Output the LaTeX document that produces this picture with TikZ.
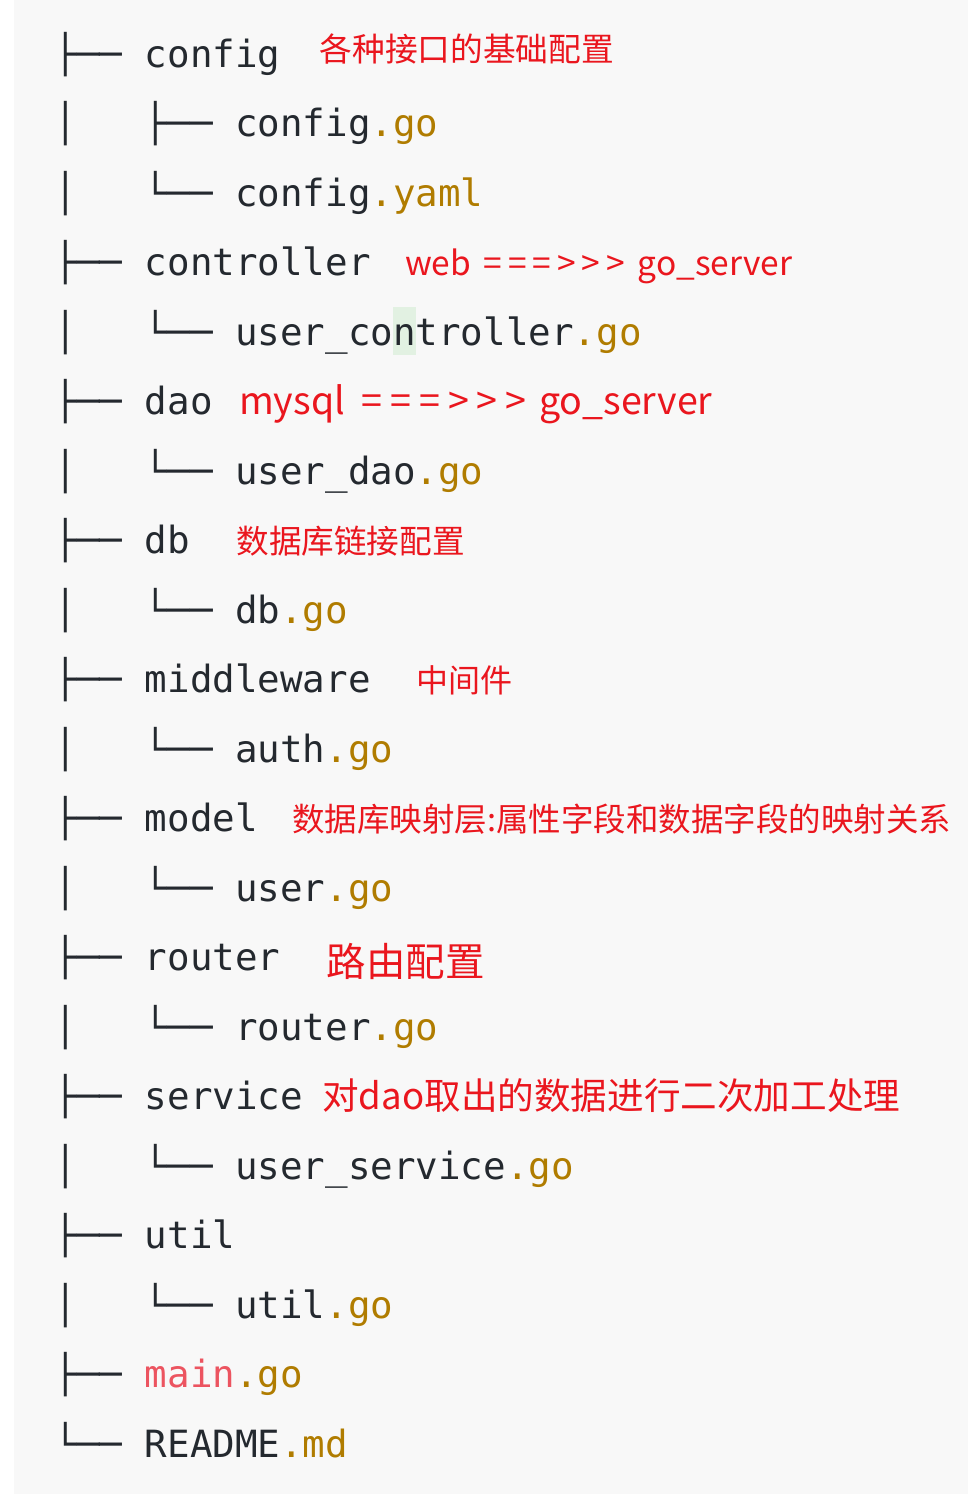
\documentclass[tikz,border=0pt]{standalone}
\usepackage{fontspec}
\usepackage{xcolor}
\usepackage{tikz}
\usetikzlibrary{positioning}
\newfontfamily\mono{DejaVu Sans Mono}
\newfontfamily\cjk{Noto Sans CJK SC}
\definecolor{ink}{RGB}{36,41,47}
\definecolor{goext}{RGB}{176,124,0}
\definecolor{mainred}{RGB}{236,84,96}
\definecolor{annot}{RGB}{234,22,30}
\definecolor{paper}{RGB}{248,248,248}
\definecolor{cursor}{RGB}{226,241,226}
\newcommand{\redsz}[1]{\cjk\fontsize{#1}{#1}\selectfont}
\newcommand{\ext}[1]{\textcolor{goext}{#1}}
\tikzstyle{row} = [anchor=base west, inner sep=0pt, text=ink, font=\mono\fontsize{37.5}{40}\selectfont]
\tikzstyle{remark} = [anchor=base west, inner sep=0pt, text=annot]
\tikzset{nextrow/.style={below=69.5pt of #1.base west, anchor=base west}}

\begin{document}
\begin{tikzpicture}[x=1pt,y=-1pt]
\useasboundingbox (0,0) rectangle (968,1494);
\fill[white] (0,0) rectangle (968,1494);
\fill[paper] (14,0) rectangle (968,1494);
\fill[cursor] (393,307) rectangle (416,355);

% file tree
\node (cfg) [row] at (54.4,67) {├──~config};
\node (cfggo) [row, nextrow=cfg] {│~~~├──~config\ext{.go}};
\node (cfgyaml) [row, nextrow=cfggo] {│~~~└──~config\ext{.yaml}};
\node (ctrl) [row, nextrow=cfgyaml] {├──~controller};
\node (ctrlgo) [row, nextrow=ctrl] {│~~~└──~user\_controller\ext{.go}};
\node (dao) [row, nextrow=ctrlgo] {├──~dao};
\node (daogo) [row, nextrow=dao] {│~~~└──~user\_dao\ext{.go}};
\node (db) [row, nextrow=daogo] {├──~db};
\node (dbgo) [row, nextrow=db] {│~~~└──~db\ext{.go}};
\node (mw) [row, nextrow=dbgo] {├──~middleware};
\node (mwgo) [row, nextrow=mw] {│~~~└──~auth\ext{.go}};
\node (model) [row, nextrow=mwgo] {├──~model};
\node (modelgo) [row, nextrow=model] {│~~~└──~user\ext{.go}};
\node (router) [row, nextrow=modelgo] {├──~router};
\node (routergo) [row, nextrow=router] {│~~~└──~router\ext{.go}};
\node (svc) [row, nextrow=routergo] {├──~service};
\node (svcgo) [row, nextrow=svc] {│~~~└──~user\_service\ext{.go}};
\node (util) [row, nextrow=svcgo] {├──~util};
\node (utilgo) [row, nextrow=util] {│~~~└──~util\ext{.go}};
\node (main) [row, nextrow=utilgo] {├──~\textcolor{mainred}{main}\ext{.go}};
\node (readme) [row, nextrow=main] {└──~README\ext{.md}};

% red remarks
\node (cfgnote) [remark, right=39pt of cfg.base east, anchor=base west, yshift=6pt, font=\redsz{32.7}] {各种接口的基础配置};
\node (ctrlnote) [remark, right=34pt of ctrl.base east, anchor=base west, font=\redsz{33.5}] {web \kern5pt=\kern6pt=\kern6pt=\kern6pt>\kern6pt>\kern6pt> \kern5pt go\_server};
\node (daonote) [remark, right=26pt of dao.base east, anchor=base west, font=\redsz{37.6}] {mysql \kern8pt=\kern8pt=\kern8pt=\kern8pt>\kern8pt>\kern8pt> \kern4pt go\_server};
\node (dbnote) [remark, right=46pt of db.base east, anchor=base west, font=\redsz{32.6}] {数据库链接配置};
\node (mwnote) [remark, right=45pt of mw.base east, anchor=base west, font=\redsz{32}] {中间件};
\node (modelnote) [remark, right=34pt of model.base east, anchor=base west, font=\redsz{32.5}] {数据库映射层:属性字段和数据字段的映射关系};
\node (routernote) [remark, right=46pt of router.base east, anchor=base west, yshift=-6pt, font=\redsz{39.5}] {路由配置};
\node (svcnote) [remark, right=19pt of svc.base east, anchor=base west, font=\redsz{36.6}] {对dao取出的数据进行二次加工处理};
\end{tikzpicture}
\end{document}
